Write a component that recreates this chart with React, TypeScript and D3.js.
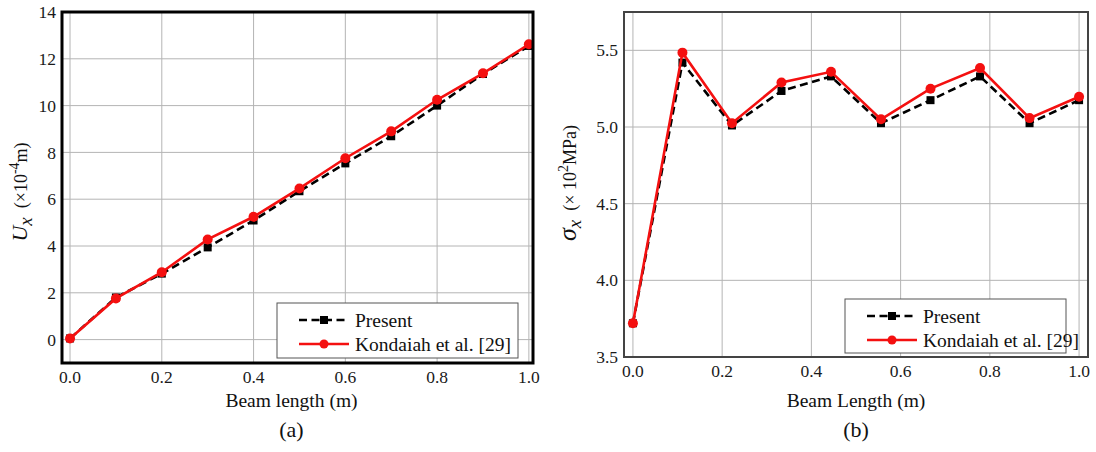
import React, { useRef, useEffect } from 'react';
import * as d3 from 'd3';

// (a) displacement along the beam
const lengthA = [0, 0.1, 0.2, 0.3, 0.4, 0.5, 0.6, 0.7, 0.8, 0.9, 1.0];
const presentA = [0.05, 1.8, 2.82, 3.94, 5.09, 6.34, 7.53, 8.69, 10.0, 11.35, 12.55];
const kondaiahA = [0.05, 1.76, 2.88, 4.28, 5.25, 6.46, 7.75, 8.9, 10.25, 11.38, 12.62];
const xTicksA = [0, 0.2, 0.4, 0.6, 0.8, 1.0];
const yTicksA = [0, 2, 4, 6, 8, 10, 12, 14];

// (b) stress along the beam
const lengthB = [0, 0.111, 0.222, 0.333, 0.444, 0.556, 0.667, 0.778, 0.889, 1.0];
const presentB = [3.72, 5.42, 5.01, 5.235, 5.33, 5.025, 5.175, 5.33, 5.025, 5.175];
const kondaiahB = [3.72, 5.485, 5.025, 5.29, 5.36, 5.05, 5.25, 5.385, 5.058, 5.197];
const xTicksB = [0, 0.2, 0.4, 0.6, 0.8, 1.0];
const yTicksB = [3.5, 4.0, 4.5, 5.0, 5.5];

const legendNames = ['Present', 'Kondaiah et al. [29]'];

const RED = '#f41010';
const FONT = "'Liberation Serif', 'DejaVu Serif', serif";

type Panel = {
  xs: number[];
  present: number[];
  kondaiah: number[];
  xDomain: [number, number];
  yDomain: [number, number];
  xTicks: number[];
  yTicks: number[];
  box: { left: number; right: number; top: number; bottom: number };
  frameWidth: number;
  frameColor: string;
  xLabel: string;
  tag: string;
  legend: { x: number; y: number; w: number; h: number };
  radius: number;
  shift: number;
};

function drawPanel(svg: d3.Selection<SVGSVGElement, unknown, null, undefined>, p: Panel) {
  const x = d3.scaleLinear().domain(p.xDomain).range([p.box.left, p.box.right]);
  const y = d3.scaleLinear().domain(p.yDomain).range([p.box.bottom, p.box.top]);
  const g = svg.append('g');

  // grid
  g.selectAll('.gx')
    .data(p.xTicks)
    .join('line')
    .attr('x1', d => x(d)).attr('x2', d => x(d))
    .attr('y1', p.box.top).attr('y2', p.box.bottom)
    .attr('stroke', '#b4b4b4').attr('stroke-width', 1);
  g.selectAll('.gy')
    .data(p.yTicks)
    .join('line')
    .attr('y1', d => y(d)).attr('y2', d => y(d))
    .attr('x1', p.box.left).attr('x2', p.box.right)
    .attr('stroke', '#b4b4b4').attr('stroke-width', 1);

  // tick labels
  const yFmt = p.yTicks[1] - p.yTicks[0] < 1 ? d3.format('.1f') : d3.format('d');
  g.selectAll('.ty')
    .data(p.yTicks)
    .join('text')
    .attr('x', p.box.left - 6)
    .attr('y', d => y(d))
    .attr('dy', '0.35em')
    .attr('text-anchor', 'end')
    .style('font-family', FONT).style('font-size', '17.5px')
    .attr('fill', '#1a1a1a')
    .text(d => yFmt(d));
  g.selectAll('.tx')
    .data(p.xTicks)
    .join('text')
    .attr('x', d => x(d))
    .attr('y', p.box.bottom + 20)
    .attr('text-anchor', 'middle')
    .style('font-family', FONT).style('font-size', '17.5px')
    .attr('fill', '#1a1a1a')
    .text(d => d3.format('.1f')(d));

  // series
  const line = d3.line<number>().x((d, i) => x(p.xs[i])).y(d => y(d));
  g.append('path')
    .datum(p.present)
    .attr('fill', 'none').attr('stroke', '#000')
    .attr('stroke-width', 2.6).attr('stroke-dasharray', '8,4.5')
    .attr('d', line);
  g.selectAll('.sq')
    .data(p.present)
    .join('rect')
    .attr('x', (d, i) => x(p.xs[i]) - 4).attr('y', d => y(d) - 4)
    .attr('width', 8).attr('height', 8).attr('fill', '#000');
  g.append('path')
    .datum(p.kondaiah)
    .attr('fill', 'none').attr('stroke', RED)
    .attr('stroke-width', 2.6)
    .attr('d', line);
  g.selectAll('.ci')
    .data(p.kondaiah)
    .join('circle')
    .attr('cx', (d, i) => x(p.xs[i])).attr('cy', d => y(d))
    .attr('r', p.radius).attr('fill', RED);

  // frame
  g.append('rect')
    .attr('x', p.box.left).attr('y', p.box.top)
    .attr('width', p.box.right - p.box.left).attr('height', p.box.bottom - p.box.top)
    .attr('fill', 'none').attr('stroke', p.frameColor).attr('stroke-width', p.frameWidth);

  // legend
  const L = p.legend;
  const lg = g.append('g').attr('transform', `translate(${L.x},${L.y})`);
  lg.append('rect')
    .attr('width', L.w).attr('height', L.h)
    .attr('fill', '#fff').attr('stroke', '#555').attr('stroke-width', 1);
  const rowY = [17, 41];
  lg.append('line')
    .attr('x1', 22).attr('x2', 72).attr('y1', rowY[0]).attr('y2', rowY[0])
    .attr('stroke', '#000').attr('stroke-width', 2.6).attr('stroke-dasharray', '8,4.5');
  lg.append('rect').attr('x', 43).attr('y', rowY[0] - 4).attr('width', 8).attr('height', 8).attr('fill', '#000');
  lg.append('line')
    .attr('x1', 22).attr('x2', 72).attr('y1', rowY[1]).attr('y2', rowY[1])
    .attr('stroke', RED).attr('stroke-width', 2.6);
  lg.append('circle').attr('cx', 47).attr('cy', rowY[1]).attr('r', 4.5).attr('fill', RED);
  lg.selectAll('.lt')
    .data(legendNames)
    .join('text')
    .attr('x', 78)
    .attr('y', (d, i) => rowY[i] + 7)
    .style('font-family', FONT).style('font-size', '19.5px')
    .attr('fill', '#111')
    .text(d => d);

  // axis label and panel tag
  const cx = (p.box.left + p.box.right) / 2 + p.shift;
  g.append('text')
    .attr('x', cx).attr('y', 407)
    .attr('text-anchor', 'middle')
    .style('font-family', FONT).style('font-size', '19.5px')
    .attr('fill', '#111')
    .text(p.xLabel);
  g.append('text')
    .attr('x', cx).attr('y', 437)
    .attr('text-anchor', 'middle')
    .style('font-family', FONT).style('font-size', '22px')
    .attr('fill', '#111')
    .text(p.tag);
}

const App = () => {
  const svgRef = useRef<SVGSVGElement>(null);

  useEffect(() => {
    const svg = d3.select(svgRef.current as SVGSVGElement);
    svg.selectAll('*').remove();

    drawPanel(svg, {
      xs: lengthA, present: presentA, kondaiah: kondaiahA,
      xDomain: [-0.0175, 1.009], yDomain: [-1, 14],
      xTicks: xTicksA, yTicks: yTicksA,
      box: { left: 62, right: 533, top: 12, bottom: 363 },
      frameWidth: 3, frameColor: '#000',
      xLabel: 'Beam length (m)', tag: '(a)',
      legend: { x: 277, y: 303, w: 241, h: 55 },
      radius: 5, shift: -6,
    });
    drawPanel(svg, {
      xs: lengthB, present: presentB, kondaiah: kondaiahB,
      xDomain: [-0.02, 1.02], yDomain: [3.5, 5.75],
      xTicks: xTicksB, yTicks: yTicksB,
      box: { left: 624, right: 1088, top: 12, bottom: 357 },
      frameWidth: 2, frameColor: '#444',
      xLabel: 'Beam Length (m)', tag: '(b)',
      legend: { x: 845, y: 299, w: 221, h: 54 },
      radius: 5, shift: 0,
    });

    // y axis labels
    const la = svg.append('text')
      .attr('transform', 'translate(27,192) rotate(-90)')
      .attr('text-anchor', 'middle')
      .style('font-family', FONT).style('font-size', '19px').attr('fill', '#111');
    la.append('tspan').attr('font-style', 'italic').style('font-size', '22px').text('U');
    la.append('tspan').attr('font-style', 'italic').attr('dy', 5).text('x');
    la.append('tspan').attr('dy', -5).style('font-size', '18px').text('\u2002(\u00d710');
    la.append('tspan').attr('dy', -8).style('font-size', '14px').text('-4');
    la.append('tspan').attr('dy', 8).style('font-size', '18px').text('m)');

    const lb = svg.append('text')
      .attr('transform', 'translate(576,183) rotate(-90)')
      .attr('text-anchor', 'middle')
      .style('font-family', FONT).style('font-size', '19px').attr('fill', '#111');
    lb.append('tspan').attr('font-style', 'italic').style('font-size', '26px').text('\u03c3');
    lb.append('tspan').attr('font-style', 'italic').attr('dy', 5).text('x');
    lb.append('tspan').attr('dy', -5).style('font-size', '18px').text('\u2002(\u00d7 10');
    lb.append('tspan').attr('dy', -8).style('font-size', '14px').text('2');
    lb.append('tspan').attr('dy', 8).style('font-size', '18px').text('MPa)');
  }, []);

  return (
    <svg
      ref={svgRef}
      width="1096"
      height="452"
      style={{ position: 'absolute', left: 0, top: 0, background: '#fff' }}
    ></svg>
  );
};

export default App;
